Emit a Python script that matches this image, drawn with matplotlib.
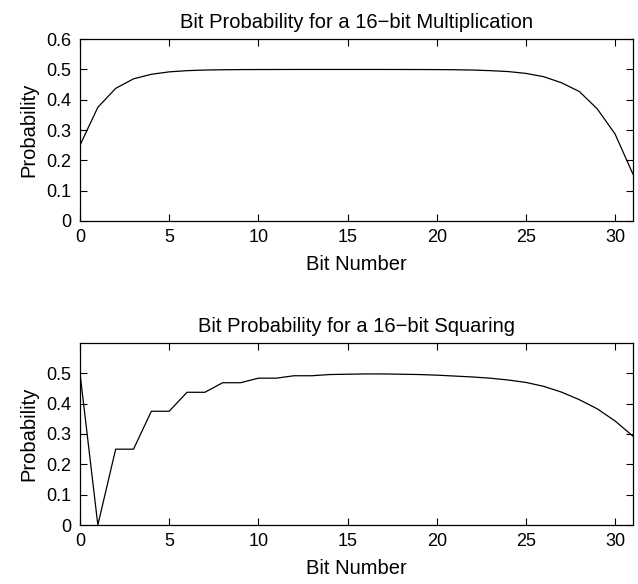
# Bit probabilities for 16-bit multiplication and squaring

import numpy as np
import matplotlib
matplotlib.use('Agg')
import matplotlib.pyplot as plt

plt.rcParams['font.family'] = ['Liberation Sans', 'DejaVu Sans']

bits = np.arange(32)

mult_prob = [0.25, 0.375, 0.4375, 0.469, 0.484, 0.492, 0.496, 0.498,
             0.499, 0.4995, 0.4997, 0.4998, 0.4999, 0.4999, 0.4999, 0.4999,
             0.4999, 0.4999, 0.4998, 0.4997, 0.4995, 0.499, 0.498, 0.496,
             0.493, 0.487, 0.476, 0.456, 0.427, 0.370, 0.287, 0.155]

square_prob = [0.5, 0.0, 0.25, 0.25, 0.375, 0.375, 0.4375, 0.4375,
               0.469, 0.469, 0.484, 0.484, 0.492, 0.492, 0.496, 0.497,
               0.498, 0.498, 0.497, 0.496, 0.494, 0.491, 0.488, 0.484,
               0.478, 0.470, 0.457, 0.438, 0.413, 0.383, 0.343, 0.293]

fig = plt.figure(figsize=(6.38, 5.84), dpi=100)
ax1 = fig.add_axes([0.1254, 0.6216, 0.8666, 0.3114])
ax2 = fig.add_axes([0.1254, 0.101, 0.8666, 0.3117])


def style_axes(ax, yticks):
    ax.set_xlim(0, 31)
    ax.set_ylim(0, 0.6)
    ax.set_xticks([0, 5, 10, 15, 20, 25, 30])
    ax.set_yticks(yticks)
    ax.set_yticklabels(['0' if t == 0 else f'{t:g}' for t in yticks])
    ax.tick_params(direction='in', top=True, right=True, labelsize=13,
                   length=5, width=0.8, pad=6)
    ax.set_xlabel('Bit Number', fontsize=14.5, labelpad=6)
    ax.set_ylabel('Probability', fontsize=14.5, labelpad=6)
    for s in ax.spines.values():
        s.set_linewidth(0.9)


ax1.plot(bits, mult_prob, color='black', linewidth=0.9)
style_axes(ax1, [0, 0.1, 0.2, 0.3, 0.4, 0.5, 0.6])
ax1.set_title('Bit Probability for a 16\u2212bit Multiplication',
              fontsize=14.5, pad=8)

ax2.plot(bits, square_prob, color='black', linewidth=0.9)
style_axes(ax2, [0, 0.1, 0.2, 0.3, 0.4, 0.5])
ax2.set_title('Bit Probability for a 16\u2212bit Squaring',
              fontsize=14.5, pad=8)

fig.savefig('out.png', dpi=100)
